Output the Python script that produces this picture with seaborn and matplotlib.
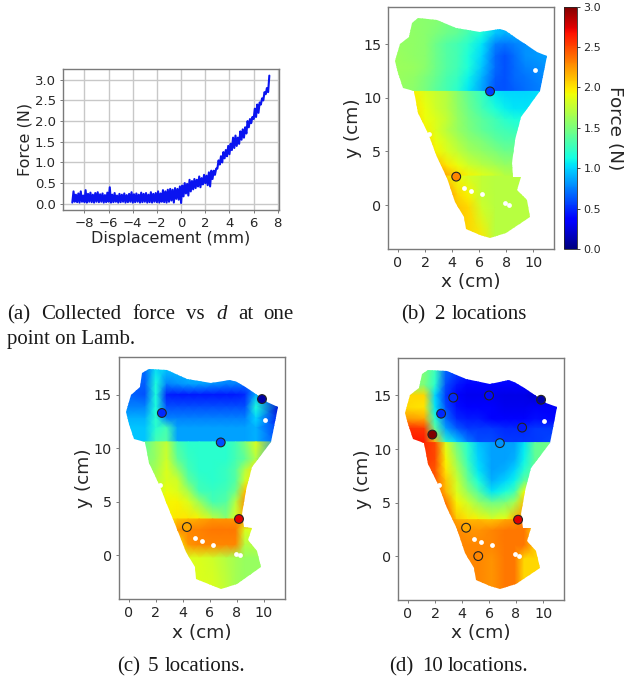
import numpy as np
import matplotlib
matplotlib.use("Agg")
import matplotlib.pyplot as plt
from matplotlib.patches import Polygon
from matplotlib.colors import Normalize
from matplotlib.cm import ScalarMappable
import seaborn as sns

sns.set_theme(style="white")
plt.rcParams['font.family'] = ['DejaVu Sans']
W, H = 624, 677
INK = '#262626'
SPINE = '#7a7a7a'
JET = matplotlib.colormaps['jet']

# ---- panel (a) data
disp = [-9.0,-8.8,-8.6,-8.4,-8.2,-8.0,-7.8,-7.6,-7.4,-7.2,-7.0,-6.8,-6.6,-6.4,-6.2,-6.0,-5.8,-5.6,-5.4,-5.2,
        -5.0,-4.8,-4.6,-4.4,-4.2,-4.0,-3.8,-3.6,-3.4,-3.2,-3.0,-2.8,-2.6,-2.4,-2.2,-2.0,-1.8,-1.6,-1.4,-1.2,
        -1.0,-0.8,-0.6,-0.4,-0.2,0.0,0.2,0.4,0.6,0.8,1.0,1.2,1.4,1.6,1.8,2.0,2.2,2.4,2.6,2.8,
        3.0,3.2,3.4,3.6,3.8,4.0,4.2,4.4,4.6,4.8,5.0,5.2,5.4,5.6,5.8,6.0,6.2,6.4,6.6,6.8,7.0,7.2]
force_high = [.30,.22,.25,.30,.20,.33,.24,.27,.22,.26,.28,.23,.25,.21,.27,.40,.22,.26,.20,.24,
              .22,.25,.21,.24,.28,.23,.25,.22,.27,.24,.26,.22,.28,.24,.26,.30,.25,.33,.30,.34,
              .36,.34,.38,.36,.42,.44,.50,.48,.58,.55,.60,.58,.66,.62,.70,.68,.76,.80,.80,.85,
              1.05,1.15,1.25,1.30,1.40,1.45,1.60,1.65,1.60,1.75,1.80,1.85,2.00,2.05,2.10,2.30,2.40,2.45,2.55,2.70,2.80,3.10]
force_low = [.03,.05,.04,.03,.05,.04,.03,.05,.04,.03,.05,.04,.05,.03,.04,.05,.03,.04,.05,.03,
             .04,.05,.03,.04,.05,.03,.04,.05,.03,.04,.05,.03,.04,.03,.05,.04,.03,.05,.04,.03,
             .05,.08,.03,.12,.10,.02,.18,.25,.20,.30,.35,.38,.42,.40,.47,.50,.45,.42,.60,.70,
             .85,.95,1.00,1.10,1.15,1.20,1.30,1.35,1.40,1.45,1.55,1.60,1.70,1.85,1.95,2.05,2.10,2.20,2.40,2.50,2.65,2.70]

# ---- force-map grid: column and row centres (cm); outer values reach the map edges
x_nodes = [-0.5,1.2,2.0,2.8,3.6,4.4,5.2,6.2,7.2,7.9,8.6,9.4,11.2]
y_nodes = [17.8,16.0,15.0,13.9,12.8,11.9,10.6,10.6,9.0,8.0,7.0,6.0,5.0,3.7,3.05,2.4,1.0,-0.25,-3.5]

# outline of the scanned surface (cm)
outline_x = [1.5,1.0,.84,.15,-.2,0,.4,1.2,1.5,2.2,2.9,3.6,4.2,4.9,5,6.05,6.8,8,9.75,9.5,8.8,9.1,8.5,8.4,8.65,9.1,10.5,10.7,11,10.25,8.75,8,7.5,6.05,4.3,2.85]
outline_y = [17.4,17.0,15.7,15,13.4,12.3,10.9,10.6,8.6,6.7,4.5,2.5,.3,-1.1,-2.2,-2.8,-3.1,-2.65,-1.1,.45,1.4,2.6,2.65,3.9,6.1,8.25,10.6,12,13.9,14.3,15.6,16.2,16.4,16.1,16.5,17.3]

# white gaps in the scan
gap_x = [4.9,5.4,6.2,7.9,8.2,2.3,10.1]
gap_y = [1.6,1.3,1.0,0.15,0.0,6.6,12.6]

force_b = [
 [1.55,1.55,1.55,1.55,1.50,1.45,1.35,1.20,1.00,.95,.90,.85,.85],
 [1.58,1.58,1.55,1.50,1.45,1.40,1.30,1.15,.95,.90,.90,.85,.85],
 [1.60,1.58,1.55,1.45,1.35,1.30,1.20,1.05,.75,.72,.75,.80,.85],
 [1.62,1.58,1.55,1.45,1.35,1.30,1.15,1.00,.68,.62,.70,.80,.85],
 [1.62,1.60,1.55,1.45,1.35,1.28,1.15,.95,.68,.62,.68,.75,.82],
 [1.62,1.58,1.50,1.42,1.32,1.25,1.10,.90,.65,.62,.68,.72,.80],
 [1.60,1.55,1.48,1.38,1.30,1.20,1.05,.85,.62,.62,.65,.70,.78],
 [1.95,1.95,1.85,1.78,1.70,1.55,1.40,1.25,1.05,1.00,1.00,1.00,1.05],
 [2.00,2.00,1.90,1.80,1.72,1.58,1.45,1.30,1.15,1.08,1.05,1.05,1.05],
 [2.05,2.05,1.92,1.85,1.75,1.60,1.48,1.38,1.28,1.20,1.15,1.15,1.15],
 [2.10,2.10,1.95,1.85,1.72,1.60,1.50,1.40,1.32,1.28,1.25,1.25,1.25],
 [2.15,2.15,2.05,1.90,1.80,1.68,1.58,1.50,1.40,1.35,1.35,1.35,1.35],
 [2.20,2.20,2.10,1.95,1.85,1.75,1.65,1.58,1.50,1.45,1.45,1.45,1.45],
 [2.30,2.30,2.30,2.15,2.00,1.90,1.80,1.72,1.65,1.60,1.60,1.60,1.60],
 [2.40,2.40,2.40,2.40,2.20,2.05,1.95,1.88,1.80,1.72,1.68,1.68,1.68],
 [2.40,2.40,2.40,2.40,2.05,1.90,1.82,1.75,1.72,1.72,1.72,1.72,1.72],
 [2.35,2.35,2.35,2.35,2.25,2.05,1.95,1.75,1.72,1.72,1.72,1.72,1.72],
 [2.30,2.30,2.30,2.30,2.20,2.10,2.05,1.80,1.72,1.72,1.72,1.72,1.72],
 [2.15,2.15,2.15,2.15,2.15,2.10,2.05,2.00,1.72,1.72,1.72,1.72,1.72],
]
force_c = [
 [.90,.70,1.00,1.00,.95,.95,.95,.95,.90,.90,.90,.90,.90],
 [.65,.65,1.15,.75,.80,.85,.85,.80,.75,.75,.70,.70,.70],
 [.70,.62,1.15,.48,.45,.45,.45,.45,.45,.45,.50,.90,.35],
 [.75,.75,1.15,.60,.60,.60,.60,.60,.60,.60,.60,1.15,.20],
 [.90,.90,1.20,.75,.75,.75,.75,.75,.75,.75,.75,1.00,.30],
 [.95,.95,1.20,1.30,.85,.85,.85,.85,.85,.85,.85,.90,.50],
 [.95,.95,1.30,1.35,.85,.85,.85,.85,.85,.85,.85,.90,.60],
 [1.40,1.40,1.60,1.75,1.30,1.20,1.20,1.20,1.20,1.30,1.50,1.85,.75],
 [1.50,1.50,1.60,1.80,1.40,1.25,1.20,1.20,1.20,1.30,1.40,1.70,.75],
 [1.55,1.55,1.65,1.85,1.60,1.30,1.20,1.20,1.25,1.35,1.70,2.00,.75],
 [1.60,1.60,1.70,1.85,1.80,1.40,1.25,1.20,1.25,1.35,1.80,2.00,2.00],
 [1.65,1.65,1.75,1.90,1.85,1.65,1.30,1.25,1.30,1.45,2.10,2.10,2.10],
 [1.70,1.70,1.80,1.95,1.95,1.85,1.60,1.30,1.35,1.70,2.25,2.25,2.25],
 [1.95,1.95,1.95,1.95,2.00,2.00,1.95,1.75,1.55,1.85,2.20,2.50,2.50],
 [2.00,2.00,2.00,2.00,2.10,2.15,2.20,2.25,2.25,2.25,2.30,2.50,2.50],
 [1.95,1.95,1.95,1.95,2.25,2.30,2.32,2.35,2.35,2.35,1.85,1.85,1.85],
 [1.90,1.90,1.90,1.90,1.95,2.25,2.30,2.30,2.30,2.30,1.70,1.70,1.70],
 [1.82,1.82,1.82,1.82,1.85,1.85,1.85,1.80,1.70,1.65,1.60,1.60,1.60],
 [1.85,1.85,1.85,1.85,1.85,1.85,1.85,1.85,1.75,1.65,1.60,1.60,1.60],
]
force_d = [
 [1.50,1.50,1.30,.70,.60,.50,.50,.50,.45,.45,.45,.40,.40],
 [1.50,1.50,1.20,.60,.45,.38,.38,.38,.38,.38,.38,.38,.38],
 [2.05,2.05,1.00,.55,.38,.30,.30,.30,.28,.28,.28,.22,.30],
 [2.05,2.00,1.05,.60,.42,.34,.34,.34,.30,.30,.30,.32,.32],
 [2.25,2.20,1.20,.70,.50,.45,.45,.38,.38,.38,.38,.42,.38],
 [2.60,2.55,1.40,.85,.65,.55,.55,.55,.50,.50,.50,.55,.55],
 [2.65,2.65,2.15,1.20,1.00,.75,.60,.60,.55,.55,.55,.55,.60],
 [2.60,2.60,2.50,1.85,1.45,1.20,.95,.85,.85,.85,1.05,1.40,1.50],
 [2.55,2.55,2.50,1.95,1.60,1.25,1.00,.85,.85,.90,1.10,1.40,1.50],
 [2.50,2.50,2.45,2.00,1.70,1.35,1.05,.85,.90,1.00,1.20,1.40,1.50],
 [2.50,2.50,2.45,2.10,1.80,1.45,1.15,.90,1.00,1.10,1.40,1.40,1.40],
 [2.50,2.50,2.45,2.15,1.85,1.60,1.35,1.05,1.15,1.30,1.90,1.90,1.90],
 [2.50,2.50,2.50,2.35,1.95,1.80,1.60,1.45,1.50,1.65,2.10,2.10,2.10],
 [2.45,2.45,2.45,2.45,2.10,2.00,1.95,1.85,1.90,2.15,2.30,2.30,2.30],
 [2.40,2.40,2.40,2.40,2.20,2.15,2.15,2.10,2.20,2.25,2.35,2.40,2.40],
 [2.35,2.35,2.35,2.35,2.30,2.25,2.25,2.30,2.35,2.35,2.35,2.05,2.05],
 [2.30,2.30,2.30,2.30,2.30,2.30,2.30,2.30,2.35,2.35,2.35,2.10,2.10],
 [2.30,2.30,2.30,2.30,2.30,2.30,2.30,2.25,2.35,2.35,2.05,2.05,2.05],
 [2.30,2.30,2.30,2.30,2.30,2.30,2.30,2.25,2.35,2.35,2.05,2.05,2.05],
]

# rows where the map jumps, and the height of each jump (cm)
breaks_b = [0, 7, 15, 19];  jump_b = [17.8, 10.6, 2.7, -3.5]
breaks_c = [0, 7, 14, 19];  jump_c = [17.8, 10.6, 3.4, -3.5]
breaks_d = [0, 7, 14, 19];  jump_d = [17.8, 10.6, 3.4, -3.5]

# ---- measured locations
loc_b_x = [6.8,4.3];  loc_b_y = [10.6,2.65];  loc_b_f = [.55,2.3]
loc_c_x = [2.45,6.8,9.85,8.15,4.3];  loc_c_y = [13.3,10.55,14.6,3.4,2.65];  loc_c_f = [.5,.6,.1,2.75,2.2]
loc_d_x = [1.8,3.35,6.0,8.45,5.2,2.45,6.8,9.85,8.15,4.3]
loc_d_y = [11.35,14.8,15.0,12.0,0.0,13.3,10.55,14.6,3.4,2.65]
loc_d_f = [3.0,.5,.4,.45,2.3,.5,.8,.1,2.75,2.2]

fig = plt.figure(figsize=(W/100, H/100), dpi=100, facecolor='white')

def axes_px(l, t, r, b):
    return fig.add_axes([l/W, 1-b/H, (r-l)/W, (b-t)/H])

def style(ax, tick, label):
    for s in ax.spines.values():
        s.set_color(SPINE); s.set_linewidth(1.0); s.set_visible(True)
    ax.tick_params(labelsize=tick, colors=INK, length=2.5, width=.7, color=SPINE, pad=2.5, bottom=True, left=True)
    ax.xaxis.label.set_size(label); ax.yaxis.label.set_size(label)
    ax.xaxis.label.set_color(INK); ax.yaxis.label.set_color(INK)

# panel (a)
ax = axes_px(63, 69, 279, 210)
zig_x, zig_y = [], []
for x0, lo, hi in zip(disp, force_low, force_high, strict=True):
    zig_x += [x0, x0 + .1]; zig_y += [lo, hi]
sns.lineplot(x=zig_x, y=zig_y, ax=ax, color='#0a14f0', lw=1.5, estimator=None, sort=False, errorbar=None)
ax.set_xlim(-9.77, 8.1); ax.set_ylim(-.15, 3.26)
ax.set_xticks(range(-8, 9, 2)); ax.set_yticks(np.arange(0, 3.01, .5))
ax.grid(True, color='#c8c8c8', lw=1.0); ax.set_axisbelow(True)
ax.set_xlabel('Displacement (mm)', labelpad=1); ax.set_ylabel('Force (N)', labelpad=2)
style(ax, 9.5, 11.5)

norm = Normalize(0, 3)
outline = np.column_stack([outline_x, outline_y])

def force_map(box, matrix, breaks, jumps, lx, ly, lf):
    a = axes_px(*box)
    M = np.array(matrix)
    # each block runs from one jump height to the next, so the jump is a hard edge
    for i, (r0, r1) in enumerate(zip(breaks[:-1], breaks[1:])):
        y_row = np.array(y_nodes[r0:r1])
        y_row[0], y_row[-1] = jumps[i], jumps[i + 1]
        m = a.pcolormesh(x_nodes, y_row, M[r0:r1], cmap=JET, norm=norm, shading='gouraud', rasterized=True)
        m.set_clip_path(Polygon(outline, closed=True, transform=a.transData))
    sns.scatterplot(x=gap_x, y=gap_y, color='white', s=12, linewidth=0, legend=False, ax=a, zorder=2.5)
    sns.scatterplot(x=lx, y=ly, hue=lf, palette=JET, hue_norm=(0, 3), s=40, edgecolor='#222222',
                    linewidth=.8, legend=False, ax=a, zorder=3)
    a.set_xlim(-.72, 11.55); a.set_ylim(-4.1, 18.5)
    a.set_xticks(range(0, 11, 2)); a.set_yticks(range(0, 16, 5))
    a.set_xlabel('x (cm)', labelpad=2.5); a.set_ylabel('y (cm)', labelpad=0.5)
    style(a, 10.3, 13.3)
    return a

force_map((388.3, 6.7, 554.3, 249), force_b, breaks_b, jump_b, loc_b_x, loc_b_y, loc_b_f)
force_map((119, 357.3, 285, 599.3), force_c, breaks_c, jump_c, loc_c_x, loc_c_y, loc_c_f)
force_map((398.3, 358, 564, 600), force_d, breaks_d, jump_d, loc_d_x, loc_d_y, loc_d_f)

cax = axes_px(564.3, 6.7, 577.3, 249)
cb = fig.colorbar(ScalarMappable(norm=norm, cmap=JET), cax=cax, ticks=np.arange(0, 3.01, .5))
cb.outline.set_linewidth(.6)
cb.ax.tick_params(labelsize=8, colors=INK, length=2.5, width=.6, pad=2)
cb.set_label('Force (N)', rotation=270, size=13.3, color=INK, labelpad=16)

# captions, word by word to keep the justified spacing
def cap(x, y, s, **kw):
    fig.text(x/W, 1-y/H, s, family='Liberation Serif', size=15, color='#1a1a1a', va='baseline', ha='left', **kw)

for x, s in zip([7, 40.7, 132.7, 186, 238, 263], ['(a)', 'Collected', 'force', 'vs', 'at', 'one']):
    cap(x, 319, s)
cap(216, 319, 'd', style='italic')
cap(7, 344, 'point on Lamb.')
for x, s in zip([401.5, 434, 451.7], ['(b)', '2', 'locations']):
    cap(x, 319, s)
for x, s in zip([116.7, 148, 165], ['(c)', '5', 'locations.']):
    cap(x, 671, s)
for x, s in zip([389.3, 422, 448], ['(d)', '10', 'locations.']):
    cap(x, 671, s)

fig.savefig('out.png', dpi=100)
